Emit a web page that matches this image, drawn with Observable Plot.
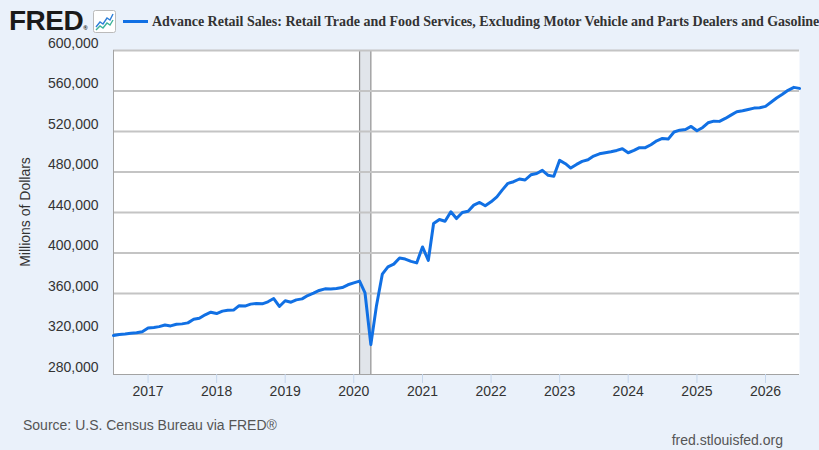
<!DOCTYPE html>
<html><head><meta charset="utf-8">
<script src="https://cdn.jsdelivr.net/npm/d3@7"></script>
<script src="https://cdn.jsdelivr.net/npm/@observablehq/plot@0.6"></script>
<style>
html,body{margin:0;padding:0;background:#eaf1fa;}
#wrap{position:relative;width:819px;height:450px;overflow:hidden;background:#eaf1fa;font-family:"Liberation Sans",Arial,sans-serif;color:#333;}
#chart{position:absolute;left:0;top:0;}
.logo{position:absolute;left:9px;top:3px;font-weight:bold;font-size:28px;letter-spacing:-0.5px;color:#1a1a1a;line-height:36px;}
.logo .reg{font-size:6px;vertical-align:baseline;letter-spacing:0;}
.icon{position:absolute;left:93px;top:10px;}
.legline{position:absolute;left:123px;top:20px;width:25px;height:3px;background:#1170e4;}
.title{position:absolute;left:152px;top:13px;white-space:nowrap;font-family:"Liberation Serif","Times New Roman",serif;font-weight:bold;font-size:14px;color:#333;line-height:18px;}
.ylab{position:absolute;left:25px;top:212px;transform:translate(-50%,-50%) rotate(-90deg);white-space:nowrap;font-size:14px;color:#333;}
.source{position:absolute;left:23px;top:417px;font-size:14px;color:#555;white-space:nowrap;}
.url{position:absolute;right:36px;top:432px;font-size:14px;color:#555;white-space:nowrap;}
</style></head><body>
<div id="wrap">
  <div id="chart"></div>
  <div class="logo">FRED<span class="reg">®</span></div>
  <svg class="icon" width="23" height="23" viewBox="0 0 23 23">
    <rect x="0.5" y="0.5" width="22" height="22" rx="2" fill="#fff" stroke="#bbb"/>
    <polyline points="3,17 7,12 10,14 14,8 17,10 20,4" fill="none" stroke="#2f7fd8" stroke-width="1.4"/>
    <polyline points="3,20 7,16 10,18 14,13 17,15 20,10" fill="none" stroke="#3db39a" stroke-width="1.4"/>
  </svg>
  <div class="legline"></div>
  <div class="title">Advance Retail Sales: Retail Trade and Food Services, Excluding Motor Vehicle and Parts Dealers and Gasoline</div>
  <div class="ylab">Millions of Dollars</div>
  <div class="source">Source: U.S. Census Bureau via FRED®</div>
  <div class="url">fred.stlouisfed.org</div>
</div>
<script>
// Monthly series, first month and last month
const firstMonth = "2016-07-01";
const lastMonth = "2026-07-01";
// Millions of dollars, Jul 2016 .. Jul 2026
const values = [
  318500, 319500, 320000, 320800, 321200, 322300,
  325900, 326500, 327300, 328900, 328000, 329600, 330000, 331000, 334500, 335500, 339000, 341500,
  340200, 342600, 343500, 343600, 348000, 347600, 349500, 350200, 349800, 351800, 355000, 347200,
  352800, 351400, 353700, 354700, 358000, 360300, 363000, 364600, 364400, 364900, 365900, 368600,
  370500, 372200, 360500, 309500, 348000, 379100, 386300, 389000, 395000, 394000, 391700, 390200,
  406000, 392700, 429100, 433100, 431400, 440700, 434000, 440000, 441300, 447300, 449900, 446600,
  450600, 455500, 462100, 468800, 470400, 473100, 472100, 477200, 478500, 481600, 476700, 475700,
  491500, 488200, 483900, 487500, 490500, 492100, 495700, 498000, 499000, 500000, 501300, 503000,
  499000, 501300, 504000, 504000, 506900, 510800, 513100, 512500, 519500, 521300, 522000, 525000,
  520700, 524000, 528600, 530200, 530000, 532900, 536200, 539500, 540500, 541800, 543100, 543500,
  544800, 549100, 553100, 556700, 560700, 563600, 562600
];
const recessionStart = ["2020-02-01"];
const recessionEnd = ["2020-04-01"];
const yTicks = [280000, 320000, 360000, 400000, 440000, 480000, 520000, 560000, 600000];
const xTickYears = [2017, 2018, 2019, 2020, 2021, 2022, 2023, 2024, 2025, 2026];

const months = d3.utcMonth.range(new Date(firstMonth), d3.utcMonth.offset(new Date(lastMonth), 1));
const data = values.map((v, i) => ({date: months[i], value: v}));
const recessions = recessionStart.map((s, i) => ({start: new Date(s), end: new Date(recessionEnd[i])}));
const xTicks = xTickYears.map(y => new Date(Date.UTC(y, 0, 1)));
const xDomain = [new Date(firstMonth), new Date(lastMonth)];

const chart = Plot.plot({
  width: 819,
  height: 450,
  marginLeft: 113,
  marginRight: 20,
  marginTop: 50,
  marginBottom: 76,
  style: {background: "transparent", fontFamily: "Liberation Sans, Arial, sans-serif", fontSize: "14px", color: "#333", overflow: "visible"},
  x: {type: "utc", domain: xDomain},
  y: {domain: [yTicks[0], yTicks[yTicks.length - 1]]},
  marks: [
    Plot.frame({fill: "white", stroke: null}),
    Plot.rect(recessions, {x1: "start", x2: "end", fill: "#e1e5ea"}),
    Plot.ruleX(recessions, {x: "start", stroke: "#8e8e8e", strokeWidth: 1.2}),
    Plot.ruleX(recessions, {x: "end", stroke: "#8e8e8e", strokeWidth: 1.2}),
    Plot.ruleY(yTicks.slice(1), {stroke: "#c4c4c4", strokeWidth: 2}),
    Plot.ruleY([yTicks[0]], {stroke: "#a3a3a3", strokeWidth: 1}),
    Plot.ruleX([xDomain[0]], {stroke: "#a3a3a3", strokeWidth: 1}),
    Plot.axisY({ticks: yTicks, tickSize: 0, tickPadding: 15, dy: -7, tickFormat: d3.format(","), label: null, fill: "#333"}),
    Plot.axisX({ticks: xTicks, tickSize: 9, tickPadding: 3, stroke: "#c5d6ec", fill: "#333", tickFormat: d3.utcFormat("%Y"), label: null}),
    Plot.lineY(data, {x: "date", y: "value", stroke: "#1170e4", strokeWidth: 3, strokeLinejoin: "round", strokeLinecap: "round"})
  ]
});
document.getElementById("chart").appendChild(chart);
</script>
</body></html>
